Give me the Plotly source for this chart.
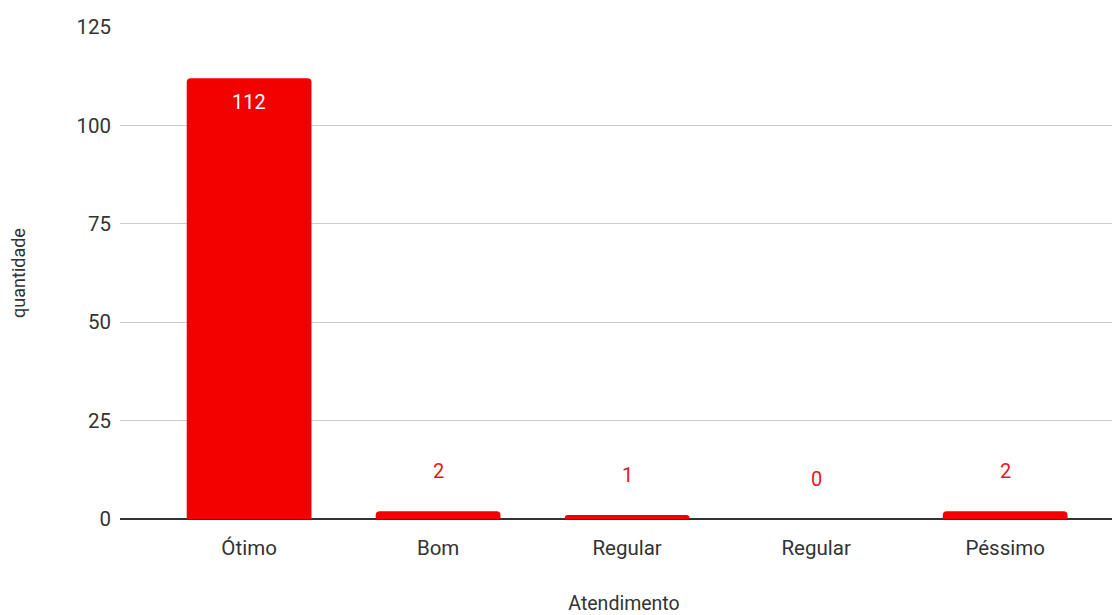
import plotly.graph_objects as go

categories = ["Ótimo", "Bom", "Regular", "Regular", "Péssimo"]
values = [112, 2, 1, 0, 2]
y_ticks = [0, 25, 50, 75, 100, 125]

positions = list(range(len(categories)))
BAR = "#f20000"
FONT = "Roboto, Arial, sans-serif"
TXT = "#333333"

fig = go.Figure()
fig.add_trace(go.Bar(
    x=positions, y=values, width=0.66,
    marker=dict(color=BAR, line=dict(width=0), cornerradius=4),
    hoverinfo="skip",
))

annotations = []
for p, v in zip(positions, values):
    if v > 20:
        annotations.append(dict(x=p, y=v, xref="x", yref="y", text=str(v), showarrow=False,
                                yanchor="top", yshift=-10, font=dict(color="white", size=20, family=FONT)))
    else:
        annotations.append(dict(x=p, y=v, xref="x", yref="y", text=str(v), showarrow=False,
                                yanchor="bottom", yshift=26, font=dict(color="#e8151f", size=20, family=FONT)))

fig.update_layout(
    width=1120, height=615,
    margin=dict(l=112, r=0, t=19, b=104),
    plot_bgcolor="white", paper_bgcolor="white",
    showlegend=False,
    font=dict(family=FONT, size=20, color=TXT),
    annotations=annotations,
    xaxis=dict(
        tickmode="array", tickvals=positions, ticktext=categories,
        range=[-0.683, 4.65], showgrid=False, zeroline=False,
        ticks="", ticklabelstandoff=14, tickfont=dict(size=20.5, color=TXT),
        title=dict(text="Atendimento", font=dict(size=19.5, color=TXT), standoff=37),
    ),
    yaxis=dict(
        range=[0, 125], tickvals=y_ticks, showgrid=True, gridcolor="#cccccc", gridwidth=1.3,
        zeroline=True, zerolinecolor="#333333", zerolinewidth=2,
        ticks="", ticklabelstandoff=8, tickfont=dict(size=20.5, color=TXT),
        title=dict(text="quantidade", font=dict(size=18, color=TXT), standoff=50),
    ),
)

fig.write_html("out.html")
